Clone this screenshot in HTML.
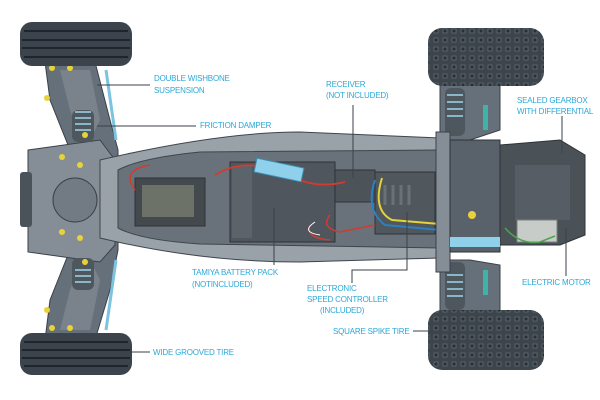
<!DOCTYPE html>
<html><head><style>
html,body{margin:0;padding:0;background:#fff;}
svg{display:block;}
text{font-family:"Liberation Sans",sans-serif;font-size:8px;fill:#2aa8d8;letter-spacing:-0.2px;}
</style></head><body>
<svg width="600" height="400" viewBox="0 0 600 400" xmlns="http://www.w3.org/2000/svg">
<defs>
<pattern id="spk" width="9" height="9" patternUnits="userSpaceOnUse">
<rect width="9" height="9" fill="#3c444c"/><rect x="2" y="2" width="4" height="4" fill="#2a3036" stroke="#6a737b" stroke-width="0.7"/>
</pattern>
</defs>
<path d="M45,62 L95,62 L110,120 L118,150 L118,250 L110,290 L95,340 L45,340 L50,300 L70,250 L62,200 L70,150 L50,100 Z" fill="#66707a" stroke="#3a4148"/>
<path d="M60,70 L90,70 L100,120 L85,150 L70,110 Z M60,330 L90,330 L100,280 L85,250 L70,290 Z" fill="#7a838c"/>
<path d="M28,150 L100,140 L115,160 L115,245 L100,262 L28,252 Z" fill="#858e96" stroke="#3a4148"/>
<rect x="20" y="172" width="12" height="55" rx="3" fill="#4b535a"/>
<circle cx="75" cy="200" r="22" fill="#727b83" stroke="#3a4148"/>
<line x1="106" y1="70" x2="116" y2="140" stroke="#7cc3e0" stroke-width="3"/>
<line x1="106" y1="330" x2="116" y2="260" stroke="#7cc3e0" stroke-width="3"/>
<rect x="72" y="110" width="22" height="32" rx="6" fill="#4f575e"/>
<rect x="72" y="258" width="22" height="32" rx="6" fill="#4f575e"/>
<path d="M75,112 h16 M75,118 h16 M75,124 h16 M75,130 h16 M75,270 h16 M75,276 h16 M75,282 h16" stroke="#9fd6ec" stroke-width="1.5"/>
<g fill="#e8d23a"><circle cx="52" cy="68" r="3"/><circle cx="70" cy="68" r="3"/><circle cx="47" cy="98" r="3"/><circle cx="62" cy="157" r="3"/><circle cx="80" cy="165" r="3"/><circle cx="62" cy="232" r="3"/><circle cx="80" cy="238" r="3"/><circle cx="47" cy="310" r="3"/><circle cx="52" cy="328" r="3"/><circle cx="70" cy="328" r="3"/><circle cx="85" cy="135" r="3"/><circle cx="85" cy="262" r="3"/></g>
<path d="M100,160 Q220,132 300,132 L440,138 L440,258 L300,262 Q200,262 100,238 Z" fill="#99a2a9" stroke="#3e454c"/>
<path d="M118,170 Q140,158 200,152 L440,150 L440,248 L200,244 Q140,240 118,228 Z" fill="#69727a" stroke="#3e454c"/>
<rect x="135" y="178" width="70" height="48" fill="#44494e" stroke="#2e3338"/>
<rect x="142" y="185" width="52" height="32" fill="#6c7267"/>
<rect x="230" y="162" width="105" height="80" fill="#4f565d" stroke="#2e3338"/>
<rect x="232" y="166" width="20" height="72" fill="#5c646b"/>
<rect x="335" y="170" width="40" height="32" fill="#4c5359" stroke="#2e3338"/>
<rect x="375" y="172" width="60" height="62" fill="#50575d" stroke="#2e3338"/>
<path d="M385,185 v20 M393,185 v20 M401,185 v20 M409,185 v20" stroke="#6a7278" stroke-width="3"/>
<path d="M215,175 Q240,160 265,168 L300,180 Q320,188 345,182" stroke="#d23b2e" stroke-width="1.8" fill="none"/>
<path d="M135,190 Q120,170 150,165" stroke="#d23b2e" stroke-width="1.5" fill="none"/>
<rect x="255" y="163" width="48" height="14" fill="#8fd0ea" stroke="#3a8fb5" transform="rotate(12 279 170)"/>
<path d="M375,180 Q365,210 385,225 L440,230" stroke="#2e7fc1" stroke-width="2" fill="none"/>
<path d="M382,178 Q372,210 392,220 L440,224" stroke="#e5d33a" stroke-width="2" fill="none"/>
<path d="M330,215 Q320,228 340,232 L375,225 M310,225 Q305,238 330,240" stroke="#d23b2e" stroke-width="1.5" fill="none"/>
<path d="M315,222 Q300,232 320,235" stroke="#fff" stroke-width="1" fill="none"/>
<path d="M440,85 L500,85 L500,130 L470,140 L440,140 Z" fill="#66707a" stroke="#3a4148"/>
<path d="M440,260 L470,260 L500,265 L500,312 L440,312 Z" fill="#66707a" stroke="#3a4148"/>
<rect x="445" y="88" width="20" height="48" rx="6" fill="#4f575e"/>
<rect x="445" y="262" width="20" height="48" rx="6" fill="#4f575e"/>
<path d="M447,95 h16 M447,102 h16 M447,109 h16 M447,116 h16 M447,275 h16 M447,282 h16 M447,289 h16 M447,296 h16" stroke="#9fd6ec" stroke-width="1.5"/>
<rect x="483" y="105" width="5" height="25" fill="#3fb3a8"/><rect x="483" y="270" width="5" height="25" fill="#3fb3a8"/>
<rect x="436" y="132" width="14" height="140" fill="#858e96" stroke="#3a4148"/>
<rect x="450" y="140" width="50" height="112" fill="#59616a" stroke="#2e3338"/>
<path d="M500,145 L560,140 L585,155 L585,235 L560,245 L500,245 Z" fill="#4a5157" stroke="#2e3338"/>
<rect x="515" y="165" width="55" height="55" fill="#565d64"/>
<rect x="517" y="220" width="40" height="22" fill="#c7ccc8" stroke="#7b8080"/>
<circle cx="472" cy="215" r="4" fill="#e8d23a"/>
<rect x="450" y="237" width="50" height="10" fill="#8fd0ea"/>
<path d="M505,228 Q520,245 540,242 L555,236" stroke="#4aa64a" stroke-width="1.5" fill="none"/>
<rect x="20" y="22" width="112" height="44" rx="12" fill="#3b444c"/>
<path d="M24,31 H128 M22,40 H130 M22,48 H130 M24,57 H128" stroke="#1f252a" stroke-width="2"/>
<rect x="20" y="333" width="112" height="42" rx="12" fill="#3b444c"/>
<path d="M24,342 H128 M22,350 H130 M22,358 H130 M24,366 H128" stroke="#1f252a" stroke-width="2"/>
<rect x="428" y="28" width="116" height="58" rx="14" fill="url(#spk)"/>
<rect x="428" y="310" width="116" height="60" rx="14" fill="url(#spk)"/>
<g stroke="#3a4148" stroke-width="1" fill="none">
<path d="M97,85 H150"/><path d="M97,126 H196"/><path d="M353,105 V178"/><path d="M562,116 V153"/>
<path d="M274,208 V265"/><path d="M407,212 V270 H352 V283"/><path d="M566,228 V276"/>
<path d="M413,331 H440"/><path d="M118,352 H150"/>
</g>
<text x="154" y="81">DOUBLE WISHBONE</text><text x="154" y="93">SUSPENSION</text>
<text x="200" y="128">FRICTION DAMPER</text>
<text x="326" y="87">RECEIVER</text><text x="326" y="98">(NOT INCLUDED)</text>
<text x="517" y="103">SEALED GEARBOX</text><text x="517" y="114">WITH DIFFERENTIAL</text>
<text x="192" y="275">TAMIYA BATTERY PACK</text><text x="192" y="287">(NOTINCLUDED)</text>
<text x="307" y="291">ELECTRONIC</text><text x="307" y="302">SPEED CONTROLLER</text><text x="320" y="313">(INCLUDED)</text>
<text x="522" y="285">ELECTRIC MOTOR</text>
<text x="333" y="334">SQUARE SPIKE TIRE</text>
<text x="153" y="355">WIDE GROOVED TIRE</text>
</svg>
</body></html>
